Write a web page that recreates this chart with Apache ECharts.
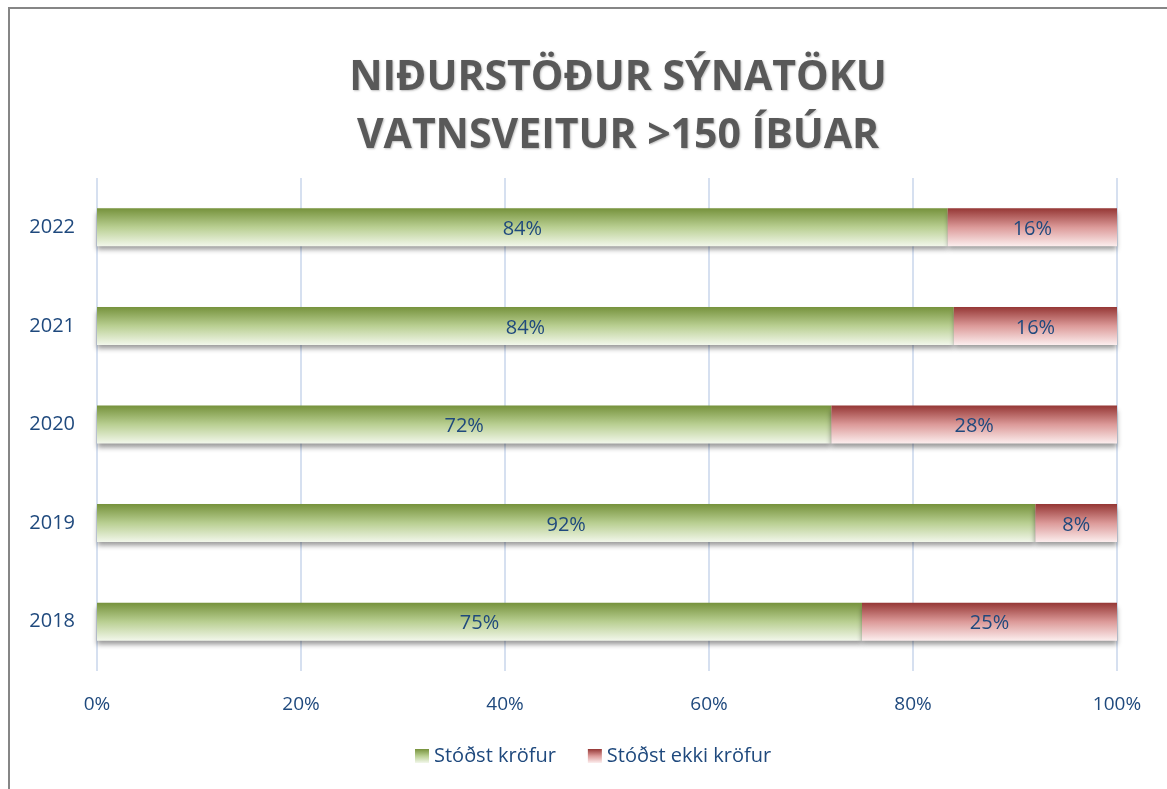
<!DOCTYPE html>
<html>
<head>
<meta charset="utf-8">
<script src="https://cdn.jsdelivr.net/npm/echarts@6/dist/echarts.min.js"></script>
<style>
    html, body { margin: 0; padding: 0; background: #fff; }
    #chart { width: 1167px; height: 789px; }
</style>
</head>
<body>
<div id="chart"></div>
<script>
// gögn
var years = ['2018', '2019', '2020', '2021', '2022'];
var passed = [75, 92, 72, 84, 83.4];
var failed = [25, 8, 28, 16, 16.6];
var passedLabels = ['75%', '92%', '72%', '84%', '84%'];
var failedLabels = ['25%', '8%', '28%', '16%', '16%'];
var xTicks = [0, 20, 40, 60, 80, 100];

var blue = '#1F497D';
var font = '"Open Sans", "Noto Sans", sans-serif';

function grad(top, mid, bottom) {
    return new echarts.graphic.LinearGradient(0, 0, 0, 1, [
        { offset: 0, color: top },
        { offset: 0.5, color: mid },
        { offset: 1, color: bottom }
    ]);
}

var greenFill = grad('#76923C', '#B9CF92', '#F2F7EB');
var redFill = grad('#953735', '#DC9A99', '#FCEEEE');

var option = {
    animation: false,
    backgroundColor: '#fff',
    textStyle: { fontFamily: font },
    title: {
        text: 'NIÐURSTÖÐUR SÝNATÖKU\nVATNSVEITUR >150 ÍBÚAR',
        left: 613,
        textAlign: 'center',
        top: 44,
        textStyle: {
            fontFamily: font,
            fontSize: 41,
            fontWeight: 'bold',
            color: '#595959',
            lineHeight: 58,
            textShadowColor: 'rgba(0,0,0,0.25)',
            textShadowBlur: 2,
            textShadowOffsetX: 1,
            textShadowOffsetY: 1
        }
    },
    graphic: [{
        type: 'polyline',
        shape: { points: [[9, 789], [9, 8], [1167, 8]] },
        style: { stroke: '#868686', lineWidth: 2, fill: null }
    }],
    legend: {
        bottom: 18,
        left: 410,
        itemWidth: 14,
        itemHeight: 14,
        itemGap: 32,
        icon: 'rect',
        textStyle: { color: blue, fontSize: 20, fontFamily: font },
        data: ['Stóðst kröfur', 'Stóðst ekki kröfur']
    },
    grid: { left: 97, right: 50, top: 178, bottom: 118, containLabel: false },
    xAxis: {
        type: 'value',
        min: 0,
        max: 100,
        interval: 20,
        axisLine: { show: false },
        axisTick: { show: false },
        splitLine: { lineStyle: { color: '#D6E0F0', width: 2 } },
        axisLabel: {
            color: blue,
            fontSize: 19,
            margin: 24,
            formatter: function (v) { return xTicks.indexOf(v) >= 0 ? v + '%' : ''; }
        }
    },
    yAxis: {
        type: 'category',
        data: years,
        axisLine: { show: false },
        axisTick: { show: false },
        axisLabel: { color: blue, fontSize: 20, margin: 22 }
    },
    series: [{
        name: 'Stóðst kröfur',
        type: 'bar',
        stack: 'total',
        barWidth: 38,
        data: passed,
        itemStyle: {
            color: greenFill,
            shadowColor: 'rgba(0,0,0,0.4)',
            shadowBlur: 5,
            shadowOffsetY: 4
        },
        label: {
            show: true,
            position: 'inside',
            color: blue,
            fontSize: 20,
            fontFamily: font,
            offset: [0, 2],
            formatter: function (p) { return passedLabels[p.dataIndex]; }
        }
    }, {
        name: 'Stóðst ekki kröfur',
        type: 'bar',
        stack: 'total',
        barWidth: 38,
        data: failed,
        itemStyle: {
            color: redFill,
            shadowColor: 'rgba(0,0,0,0.4)',
            shadowBlur: 5,
            shadowOffsetY: 4
        },
        label: {
            show: true,
            position: 'inside',
            color: blue,
            fontSize: 20,
            fontFamily: font,
            offset: [0, 2],
            formatter: function (p) { return failedLabels[p.dataIndex]; }
        }
    }]
};

var myChart = echarts.init(document.querySelector('#chart'));
myChart.setOption(option);
</script>
</body>
</html>
